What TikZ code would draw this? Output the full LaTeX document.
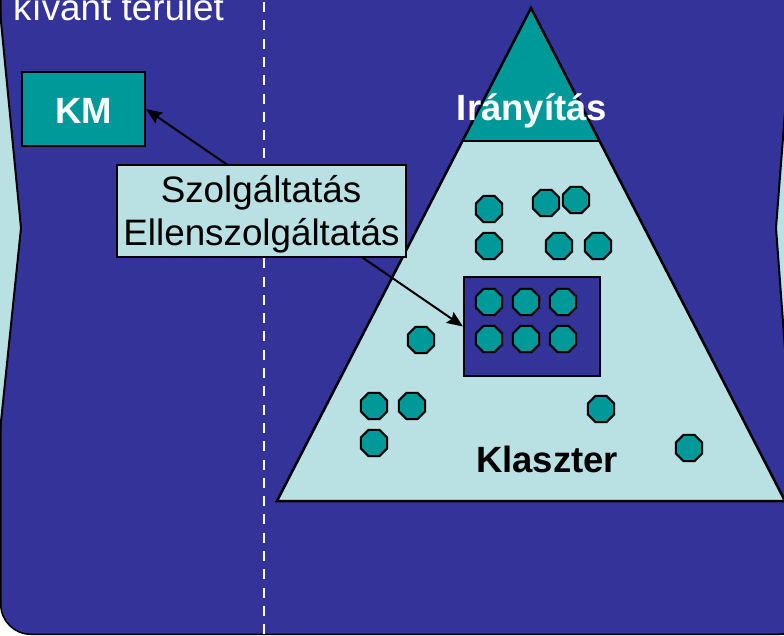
\documentclass[tikz,border=0pt]{standalone}
\usepackage{fontspec}
\setmainfont{Liberation Sans}
\usetikzlibrary{shapes.geometric,arrows.meta}
\definecolor{bgblue}{HTML}{333399}
\definecolor{tealc}{HTML}{009999}
\definecolor{lightc}{HTML}{B9E0E3}
\begin{document}
\begin{tikzpicture}[x=1pt,y=-1pt,
  bigtext/.style={font=\fontsize{36.8}{43}\selectfont, inner sep=0pt},
  boldtext/.style={font=\fontsize{36.5}{43}\selectfont\bfseries, inner sep=0pt},
  octa/.style={regular polygon, regular polygon sides=8, minimum size=28.5pt, inner sep=0pt,
    draw=black, fill=tealc, line width=2pt},
  boxed/.style={draw=black, line width=2pt, inner sep=0pt},
  conn/.style={line width=2pt, {Stealth[length=16pt,width=13pt,inset=2.5pt]}-{Stealth[length=16pt,width=13pt,inset=2.5pt]}}
]
\useasboundingbox (0,0) rectangle (784,635);
\clip (0,0) rectangle (784,635);
% background panel
\draw[fill=bgblue, draw=black, line width=1.5pt, rounded corners=30pt] (0.75,-60) rectangle (810,634.25);
% side shapes
\draw[fill=lightc, draw=black, line width=2pt] (-30,-30) -- (-4,-30) -- (21,228) -- (-4,470) -- (-30,470) -- cycle;
\draw[fill=lightc, draw=black, line width=2pt] (820,-30) -- (796,-30) -- (776,228) -- (794,470) -- (820,470) -- cycle;
% top-left text
\node[bigtext, text=white, anchor=base west] (region) at (13,20) {kívánt terület};
% dashed divider
\coordinate (dtop) at (264,2);
\coordinate (dbot) at (264,640);
\draw[white, line width=2pt, dash pattern=on 10pt off 8.3pt] (dtop) -- (dbot);
% pyramid
\coordinate (apex) at (531,8);
\coordinate (bl) at (277,501);
\coordinate (br) at (785,501);
\coordinate (ml) at (462.5,141);
\coordinate (mr) at (599.5,141);
\fill[lightc] (ml) -- (mr) -- (br) -- (bl) -- cycle;
\fill[tealc] (apex) -- (mr) -- (ml) -- cycle;
\draw[black, line width=2.5pt, line join=miter] (apex) -- (br) -- (bl) -- cycle;
\draw[black, line width=2.5pt] (ml) -- (mr);
\node[boldtext, text=white, anchor=base] (iranyitas) at (532,120) {Irányítás};
\node[boldtext, text=black, anchor=base] (klaszter) at (547,472) {Klaszter};
% inner cluster rectangle
\node[boxed, fill=bgblue, minimum width=136pt, minimum height=99pt] (inner) at (532,326.5) {};
% octagons
\foreach \n/\x/\y in {o1/489/209, o2/546/203, o3/576/200, o4/489/246, o5/559/246, o6/598/246,
  o7/489/302, o8/526/302, o9/563/302, o10/489/339, o11/526/339, o12/563/339,
  o13/421/340, o14/374/406, o15/412/406, o16/374/443, o17/601/409, o18/689/448}
  \node[octa] (\n) at (\x,\y) {};
% KM box
\node[boxed, fill=tealc, minimum width=123pt, minimum height=74pt] (km) at (83.5,109) {};
\node[boldtext, text=white, anchor=base] (kmtext) at (83.5,123) {KM};
% connector
\draw[conn] (km.east) -- (inner.west);
% service label box
\node[boxed, fill=lightc, minimum width=289pt, minimum height=92pt] (serv) at (261.5,211) {};
\node[bigtext, text=black, anchor=base] (serv1) at (261,202) {Szolgáltatás};
\node[bigtext, text=black, anchor=base] (serv2) at (261.5,245) {Ellenszolgáltatás};
\end{tikzpicture}
\end{document}
